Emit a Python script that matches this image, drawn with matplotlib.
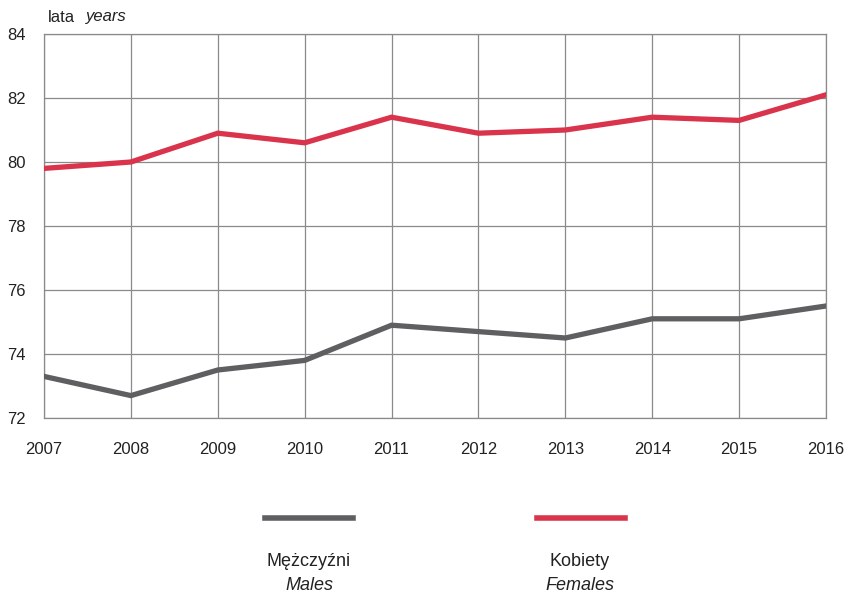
import matplotlib
matplotlib.use("Agg")
from matplotlib import pyplot as plt
from matplotlib import font_manager

years = [2007, 2008, 2009, 2010, 2011, 2012, 2013, 2014, 2015, 2016]
males = [73.3, 72.7, 73.5, 73.8, 74.9, 74.7, 74.5, 75.1, 75.1, 75.5]
females = [79.8, 80.0, 80.9, 80.6, 81.4, 80.9, 81.0, 81.4, 81.3, 82.1]
y_ticks = [72, 74, 76, 78, 80, 82, 84]

names = {f.name for f in font_manager.fontManager.ttflist}
font = "Liberation Sans Narrow" if "Liberation Sans Narrow" in names else "Liberation Sans"
plt.rcParams['font.family'] = [font, 'DejaVu Sans']

grey = '#5f5f62'
red = '#d9344c'
grid = '#8a8a8a'

fig = plt.figure(figsize=(8.49, 5.95), dpi=100)
ax = fig.add_axes([44/849, 1-418/595, (826-44)/849, (418-34)/595])

ax.plot(years, males, color=grey, lw=3.8, solid_joinstyle='miter', zorder=3)
ax.plot(years, females, color=red, lw=3.8, solid_joinstyle='miter', zorder=3)

ax.set_xlim(2007, 2016)
ax.set_ylim(72, 84)
ax.set_xticks(years)
ax.set_yticks(y_ticks)
ax.grid(True, color=grid, lw=0.9)
for s in ax.spines.values():
    s.set_color(grid)
    s.set_linewidth(0.9)
ax.tick_params(length=0, labelsize=12, colors='#222222')
ax.tick_params(axis='x', pad=17)
ax.tick_params(axis='y', pad=13)

fig.text(48/849, 1-17/595, "lata", fontsize=12, color='#222222', va='center')
fig.text(86/849, 1-17/595, "years", fontsize=12, style='italic', color='#222222', va='center')

# legend
fig.add_artist(plt.Line2D([265/849, 353/849], [1-518/595]*2, color=grey, lw=4))
fig.add_artist(plt.Line2D([537/849, 625/849], [1-518/595]*2, color=red, lw=4))
fig.text(309/849, 1-562/595, "Mężczyźni", fontsize=13, ha='center', va='center', color='#222222')
fig.text(309/849, 1-586/595, "Males", fontsize=13, style='italic', ha='center', va='center', color='#222222')
fig.text(580/849, 1-562/595, "Kobiety", fontsize=13, ha='center', va='center', color='#222222')
fig.text(580/849, 1-586/595, "Females", fontsize=13, style='italic', ha='center', va='center', color='#222222')

fig.savefig("out.png", dpi=100)
